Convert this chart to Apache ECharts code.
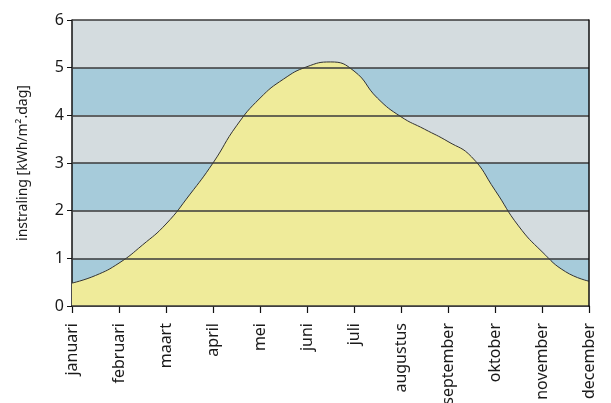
<!DOCTYPE html>
<html><head><meta charset="utf-8">
<script src="https://cdn.jsdelivr.net/npm/echarts@6/dist/echarts.min.js"></script>
<style>html,body{margin:0;padding:0;background:#fff}#c{width:611px;height:403px}</style>
</head><body><div id="c"></div>
<script>
const months = ['januari','februari','maart','april','mei','juni','juli','augustus','september','oktober','november','december'];
// positions along the year in months (0 = januari), read at each month and half-month
const monthPos = [0, 0.5, 1, 1.5, 2, 2.5, 3, 3.5, 4, 4.5, 5, 5.5, 6, 6.5, 7, 7.5, 8, 8.5, 9, 9.5, 10, 10.5, 11];
const radiation = [0.48, 0.64, 0.90, 1.28, 1.72, 2.33, 3.00, 3.78, 4.36, 4.76, 5.02, 5.12, 4.93, 4.36, 3.97, 3.71, 3.45, 3.13, 2.43, 1.68, 1.14, 0.72, 0.52];
const yTicks = [0, 1, 2, 3, 4, 5, 6];

const font = 'Noto Sans';
const chart = echarts.init(document.getElementById('c'));
chart.setOption({
  animation: false,
  grid: {left: 72, top: 20, width: 517, height: 286, containLabel: false, outerBoundsMode: 'none'},
  xAxis: {
    type: 'value', min: 0, max: months.length - 1, interval: 1,
    axisLine: {lineStyle: {color: '#111', width: 1.5}},
    axisTick: {length: 7, lineStyle: {color: '#111', width: 1.2}},
    axisLabel: {rotate: 90, margin: 17, fontFamily: font, fontSize: 16, color: '#1a1a1a',
      showMinLabel: true, showMaxLabel: true,
      formatter: v => months[Math.round(v)] || ''},
    splitLine: {show: false}
  },
  yAxis: [{
    type: 'value', min: yTicks[0], max: yTicks[yTicks.length-1], interval: 1,
    name: 'instraling [kWh/m².dag]', nameLocation: 'middle', nameGap: 42,
    nameTextStyle: {fontFamily: font, fontSize: 14, color: '#1a1a1a'},
    axisLine: {show: true, lineStyle: {color: '#111', width: 1.5}},
    axisTick: {show: true, length: 5, lineStyle: {color: '#111'}},
    axisLabel: {fontFamily: font, fontSize: 16, color: '#1a1a1a', margin: 8},
    splitLine: {show: false},
    splitArea: {show: true, areaStyle: {color: ['#a6cbda', '#d4dcdf']}},
    z: 0
  }, {
    type: 'value', min: yTicks[0], max: yTicks[yTicks.length-1], interval: 1, position: 'right',
    axisLine: {show: true, lineStyle: {color: '#111', width: 1.5}},
    axisTick: {show: false}, axisLabel: {show: false},
    splitLine: {show: true, lineStyle: {color: '#3a3a3a', width: 1.5}},
    z: 5
  }],
  series: [{
    type: 'line', data: monthPos.map((m, i) => [m, radiation[i]]), smooth: 0.5,
    symbol: 'none', yAxisIndex: 0,
    lineStyle: {color: '#333', width: 1},
    areaStyle: {color: '#efeb9a', opacity: 1},
    z: 2
  }]
});
</script></body></html>
